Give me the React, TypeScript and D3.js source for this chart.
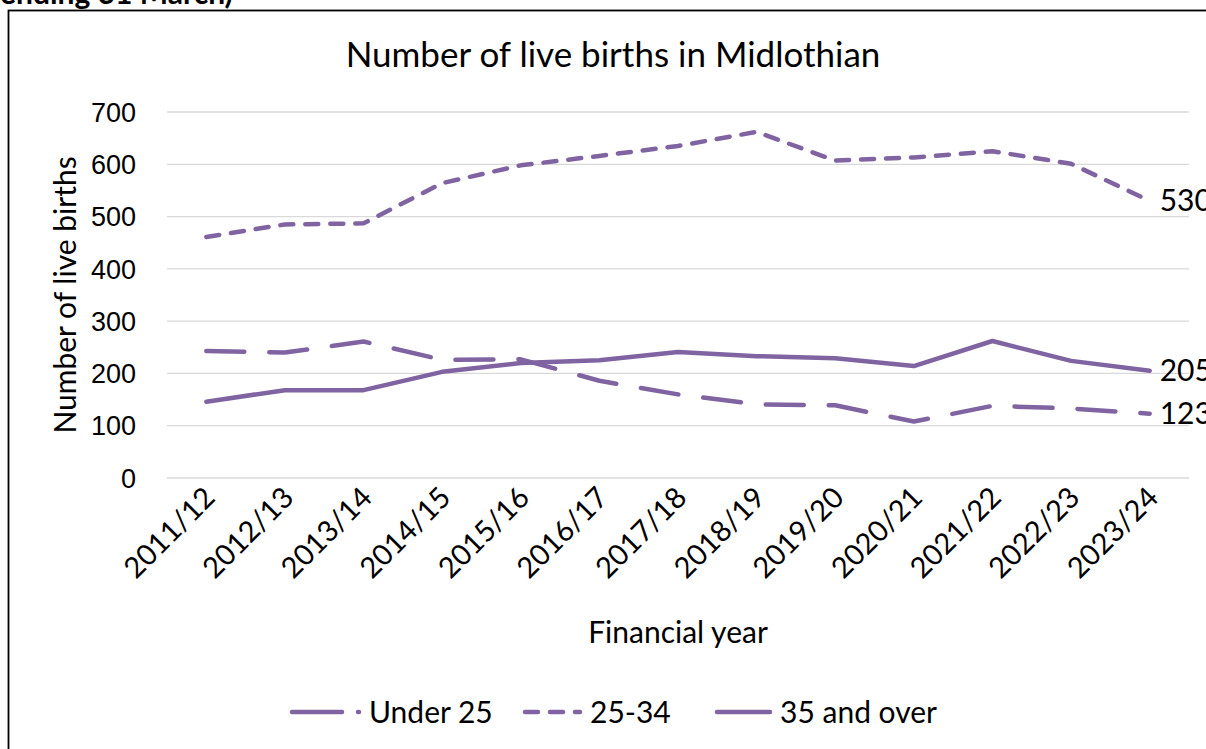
import React from "react";
import * as d3 from "d3";

const categories = ["2011/12","2012/13","2013/14","2014/15","2015/16","2016/17","2017/18","2018/19","2019/20","2020/21","2021/22","2022/23","2023/24"];
const under25 = [243, 240, 261, 226, 227, 186, 160, 141, 139, 108, 138, 133, 123];
const age25to34 = [461, 485, 487, 564, 598, 616, 635, 662, 607, 613, 625, 601, 530];
const over35 = [146, 168, 168, 203, 220, 225, 241, 233, 229, 214, 262, 224, 205];
const yTicks = [0, 100, 200, 300, 400, 500, 600, 700];
const seriesNames = ["Under 25", "25-34", "35 and over"];

const W = 1206, H = 749;
const COLOR = "#8064A2";
const CAL = "Lato, 'Open Sans', sans-serif";
const dashes = ["38 25", "13 12", null];
const legendDashes = ["50 16", "13 12", null];

export default function App() {
  const x = d3.scalePoint<string>().domain(categories).range([167, 1189]).padding(0.5);
  const y = d3.scaleLinear().domain([0, 700]).range([478, 112]);
  const series = [under25, age25to34, over35];
  const line = d3.line<number>().x((_, i) => x(categories[i]) as number).y(d => y(d));
  const legendX = [292, 525, 717];
  const legendLen = [67, 55, 53];

  return (
    <svg width={W} height={H} style={{ position: "absolute", left: 0, top: 0, background: "#fff" }}>
      <rect x={0} y={0} width={W} height={H} fill="#fff" />
      <text x={0} y={4} fontFamily={CAL} fontWeight="bold" fontSize={30} fill="#000">ending 31 March)</text>
      <rect x={8.5} y={10.5} width={W + 20} height={H + 20} fill="none" stroke="#000" strokeWidth={1.8} />
      {yTicks.map(t => (
        <g key={t}>
          <line x1={167} x2={1189} y1={y(t)} y2={y(t)} stroke="#D9D9D9" strokeWidth={1.3} />
          <text x={136} y={y(t)} dy="0.36em" textAnchor="end" fontFamily="'Liberation Sans', Arial, sans-serif" fontSize={27} fill="#000">{t}</text>
        </g>
      ))}
      {categories.map(c => (
        <text key={c} transform={`translate(${(x(c) as number) - 4},${485}) rotate(-45)`} textAnchor="end" dy="0.7em"
          fontFamily={CAL} fontSize={29} fill="#000">{c}</text>
      ))}
      {series.map((s, i) => (
        <path key={i} d={line(s) as string} fill="none" stroke={COLOR} strokeWidth={4.5}
          strokeLinecap="round" strokeLinejoin="round" strokeDasharray={dashes[i] ?? undefined} />
      ))}
      {series.map((s, i) => (
        <text key={"l" + i} x={(x(categories[12]) as number) + 10} y={y(s[12])} dy="0.35em" fontFamily={CAL} fontSize={30} fill="#000">{s[12]}</text>
      ))}
      <text x={613} y={67} textAnchor="middle" fontFamily={CAL} fontSize={35} fill="#000">Number of live births in Midlothian</text>
      <text transform="translate(76,295) rotate(-90)" textAnchor="middle" fontFamily={CAL} fontSize={30} fill="#000">Number of live births</text>
      <text x={678} y={643} textAnchor="middle" fontFamily={CAL} fontSize={30} fill="#000">Financial year</text>
      {seriesNames.map((n, i) => (
        <g key={n}>
          <line x1={legendX[i]} x2={legendX[i] + legendLen[i]} y1={712} y2={712} stroke={COLOR} strokeWidth={4.5}
            strokeLinecap="round" strokeDasharray={legendDashes[i] ?? undefined} />
          <text x={legendX[i] + legendLen[i] + 10} y={712} dy="0.35em" fontFamily={CAL} fontSize={30} fill="#000">{n}</text>
        </g>
      ))}
    </svg>
  );
}
